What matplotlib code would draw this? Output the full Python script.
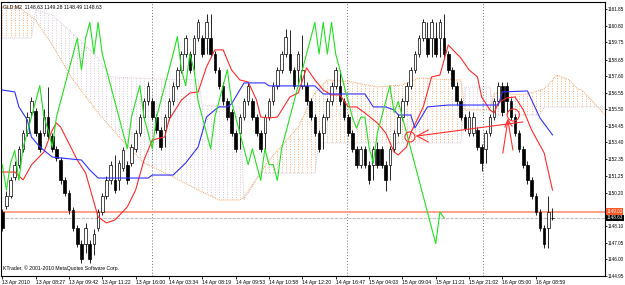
import numpy as np
import matplotlib
matplotlib.use('Agg')
import matplotlib.pyplot as plt
import matplotlib.transforms as mtransforms
from matplotlib.path import Path
from matplotlib.patches import Ellipse

plt.rcParams['font.family'] = ['Liberation Sans', 'DejaVu Sans']

# GLD,M2 candles
opens = [1149.0, 1149.4, 1150.0, 1151.2, 1152.0, 1153.0, 1154.0, 1155.3, 1155.4, 1154.0,
         1154.0, 1155.0, 1153.8, 1153.0, 1152.3, 1151.0, 1150.2, 1149.1, 1148.0, 1147.0,
         1147.0, 1147.0, 1147.0, 1148.0, 1149.0, 1150.0, 1151.0, 1151.0, 1151.0, 1151.8,
         1152.0, 1152.1, 1153.0, 1154.0, 1155.0, 1156.0, 1156.0, 1155.0, 1154.2, 1154.2,
         1155.0, 1156.0, 1157.0, 1158.0, 1159.0, 1159.0, 1159.0, 1160.0, 1160.0, 1160.0,
         1160.0, 1159.0, 1158.0, 1157.0, 1156.0, 1155.3, 1154.0, 1154.0, 1155.0, 1156.0,
         1156.0, 1155.0, 1154.0, 1154.0, 1155.0, 1156.0, 1157.0, 1158.0, 1159.0, 1159.0,
         1158.0, 1158.0, 1157.0, 1157.0, 1156.0, 1155.0, 1154.0, 1154.0, 1155.0, 1156.0,
         1157.0, 1157.0, 1156.0, 1155.0, 1154.0, 1153.0, 1152.0, 1153.0, 1152.0, 1152.0,
         1153.0, 1153.0, 1152.0, 1152.0, 1153.0, 1154.0, 1155.0, 1156.0, 1157.0, 1158.0,
         1159.0, 1160.0, 1160.0, 1160.0, 1160.0, 1160.0, 1160.0, 1159.0, 1158.0, 1157.0,
         1156.0, 1155.0, 1154.0, 1154.0, 1154.2, 1153.1, 1153.0, 1154.0, 1155.0, 1156.0,
         1157.0, 1157.0, 1156.0, 1155.0, 1154.0, 1153.0, 1152.0, 1151.0, 1150.0, 1149.0,
         1148.0, 1148.0, 1148.63]
highs = [1149.2, 1150.3, 1151.2, 1152.2, 1153.2, 1154.2, 1155.3, 1156.3, 1155.6, 1154.2,
         1155.5, 1156.9, 1154.0, 1153.2, 1152.5, 1151.2, 1150.4, 1149.3, 1148.2, 1147.2,
         1148.3, 1147.2, 1147.9, 1149.2, 1150.2, 1151.3, 1152.2, 1152.6, 1152.3, 1153.1,
         1152.2, 1153.3, 1154.2, 1155.2, 1156.2, 1157.2, 1156.2, 1155.2, 1154.4, 1155.2,
         1156.2, 1157.2, 1158.2, 1159.2, 1160.2, 1159.2, 1160.2, 1161.2, 1160.2, 1161.5,
         1161.5, 1159.2, 1158.2, 1157.2, 1156.2, 1155.5, 1154.2, 1155.2, 1156.2, 1157.2,
         1156.2, 1155.2, 1154.2, 1155.2, 1156.2, 1157.2, 1158.2, 1159.2, 1160.6, 1160.5,
         1158.2, 1159.2, 1160.2, 1157.2, 1156.2, 1155.2, 1154.2, 1155.2, 1156.2, 1157.2,
         1158.2, 1158.0, 1156.2, 1155.2, 1154.2, 1153.2, 1153.2, 1153.2, 1152.2, 1153.2,
         1153.4, 1153.2, 1152.2, 1153.2, 1154.2, 1155.2, 1156.2, 1157.2, 1158.2, 1159.2,
         1160.2, 1161.2, 1161.0, 1161.2, 1161.0, 1161.2, 1161.5, 1159.2, 1158.2, 1157.2,
         1156.2, 1155.2, 1155.4, 1155.3, 1154.4, 1153.3, 1154.2, 1155.2, 1156.2, 1157.2,
         1157.2, 1157.2, 1156.2, 1155.2, 1154.2, 1153.2, 1152.2, 1151.2, 1150.2, 1149.2,
         1148.2, 1150.0, 1149.28]
lows = [1147.8, 1149.2, 1149.9, 1151.0, 1151.8, 1152.8, 1153.8, 1155.1, 1153.8, 1152.8,
        1153.8, 1153.6, 1152.8, 1152.2, 1150.8, 1150.0, 1148.9, 1147.8, 1146.8, 1145.8,
        1146.4, 1145.8, 1146.3, 1147.8, 1148.8, 1149.8, 1150.8, 1150.2, 1150.4, 1151.6,
        1150.8, 1151.9, 1152.8, 1153.8, 1154.8, 1155.8, 1154.8, 1154.0, 1152.9, 1153.1,
        1154.8, 1155.8, 1156.8, 1157.8, 1158.8, 1157.8, 1158.0, 1159.8, 1158.8, 1159.0,
        1158.8, 1157.8, 1156.8, 1155.8, 1154.8, 1153.8, 1152.8, 1153.0, 1154.8, 1155.8,
        1154.8, 1153.8, 1152.8, 1153.0, 1154.8, 1155.8, 1156.8, 1157.8, 1158.8, 1157.8,
        1156.8, 1157.0, 1156.8, 1155.8, 1154.8, 1153.8, 1152.8, 1153.0, 1154.8, 1155.8,
        1156.8, 1155.8, 1154.8, 1153.8, 1152.8, 1151.8, 1151.8, 1151.8, 1150.8, 1151.0,
        1151.8, 1151.8, 1150.3, 1151.0, 1152.8, 1153.8, 1154.8, 1155.8, 1156.8, 1157.8,
        1158.8, 1159.8, 1158.8, 1158.8, 1158.8, 1158.8, 1158.8, 1157.8, 1156.8, 1155.8,
        1154.8, 1154.1, 1153.8, 1153.8, 1152.9, 1151.6, 1152.1, 1153.8, 1154.8, 1155.8,
        1155.1, 1155.3, 1154.8, 1153.8, 1152.8, 1151.8, 1150.8, 1149.8, 1148.8, 1147.8,
        1146.7, 1146.7, 1148.49]
closes = [1148.0, 1150.0, 1151.0, 1152.0, 1153.0, 1154.0, 1155.0, 1156.0, 1154.0, 1153.0,
          1155.0, 1153.8, 1153.0, 1152.4, 1151.0, 1150.2, 1149.1, 1148.0, 1147.0, 1146.0,
          1148.0, 1146.0, 1147.6, 1149.0, 1150.0, 1151.0, 1152.0, 1150.4, 1152.1, 1152.9,
          1151.0, 1153.1, 1154.0, 1155.0, 1156.0, 1157.0, 1155.0, 1154.2, 1153.1, 1155.0,
          1156.0, 1157.0, 1158.0, 1159.0, 1160.0, 1158.0, 1160.0, 1161.0, 1159.0, 1161.0,
          1159.0, 1158.0, 1157.0, 1156.0, 1155.0, 1154.0, 1153.0, 1155.0, 1156.0, 1157.0,
          1155.0, 1154.0, 1153.0, 1155.0, 1156.0, 1157.0, 1158.0, 1159.0, 1160.1, 1158.0,
          1157.0, 1159.0, 1158.0, 1156.0, 1155.0, 1154.0, 1153.0, 1155.0, 1156.0, 1157.0,
          1158.0, 1156.0, 1155.0, 1154.0, 1153.0, 1152.0, 1153.0, 1152.0, 1151.0, 1153.0,
          1152.0, 1152.0, 1151.0, 1153.0, 1154.0, 1155.0, 1156.0, 1157.0, 1158.0, 1159.0,
          1160.0, 1161.0, 1159.0, 1161.0, 1159.0, 1161.0, 1159.0, 1158.0, 1157.0, 1156.0,
          1155.0, 1154.3, 1155.0, 1155.0, 1153.1, 1152.1, 1154.0, 1155.0, 1156.0, 1157.0,
          1155.3, 1156.0, 1155.0, 1154.0, 1153.0, 1152.0, 1151.0, 1150.0, 1149.0, 1148.0,
          1147.0, 1149.0, 1148.63]

# Ichimoku lines, vertices as (bar, price)
tenkan_bar = [0, 3, 5, 7, 10, 12, 13, 14, 18, 20, 23, 25, 27, 30, 32, 34, 36, 39, 40, 43,
              45, 47, 49, 51, 53, 55, 57, 59, 61, 62, 64, 66, 69, 71, 73, 75, 77, 79, 81, 83,
              85, 87, 90, 92, 94, 95, 97, 98, 101, 103, 105, 107, 110, 112, 114, 115, 117, 118,
              119, 121, 123, 125, 127, 130, 132]
tenkan_val = [1151.53, 1151.53, 1151.03, 1151.98, 1152.80, 1154.19, 1154.63, 1154.38, 1152.29, 1151.47,
              1148.69, 1148.31, 1148.49, 1149.32, 1150.39, 1152.29, 1153.56, 1153.75, 1154.83, 1156.09,
              1156.53, 1156.60, 1158.18, 1159.26, 1159.26, 1157.99, 1157.36, 1157.23, 1156.09, 1155.01,
              1154.95, 1155.01, 1156.28, 1156.53, 1158.12, 1157.36, 1156.72, 1156.41, 1156.41, 1155.65,
              1155.65, 1155.27, 1154.63, 1154.00, 1152.80, 1152.61, 1153.12, 1154.00, 1155.65, 1157.55,
              1157.67, 1159.57, 1158.75, 1157.99, 1157.55, 1156.28, 1155.46, 1155.27,
              1155.90, 1156.22, 1156.28, 1155.46, 1154.19, 1152.74, 1150.39]
kijun_bar = [0, 3, 4, 6, 7, 9, 12, 14, 19, 21, 23, 35, 36, 41, 44, 47, 49, 51, 52, 54,
             55, 58, 63, 64, 75, 77, 87, 89, 92, 94, 95, 98, 99, 102, 107, 119, 120, 126, 129, 132]
kijun_val = [1156.72, 1156.60, 1155.65, 1154.83, 1153.75, 1153.12, 1152.48, 1152.42, 1152.29, 1151.66,
             1151.15, 1151.15, 1151.34, 1151.34, 1152.10, 1153.12, 1155.01, 1155.46, 1155.65, 1155.65,
             1155.84, 1157.17, 1157.17, 1156.98, 1156.98, 1156.47, 1156.47, 1155.65, 1155.65, 1155.46,
             1155.14, 1155.14, 1154.32, 1155.65, 1155.77, 1155.77, 1156.60, 1156.66, 1154.95, 1153.88]
kumo_bar = [0, 4, 7, 8, 12, 16, 17, 21, 23, 26, 28, 34, 41, 47, 48, 52, 57, 58, 62, 64,
            71, 75, 76, 78, 84, 90, 96, 100, 108, 110, 111, 117, 118, 125, 129, 130, 131, 133,
            136, 138, 139, 142, 145]
span_a = [1161.98, 1161.98, 1161.35, 1161.15, 1159.57, 1157.80, 1157.36, 1155.97, 1155.27, 1154.36,
          1153.75, 1152.10, 1151.22, 1150.39, 1150.27, 1149.76, 1149.76, 1149.95, 1151.50, 1152.29,
          1154.38, 1156.53, 1156.80, 1157.36, 1157.23, 1156.91, 1157.04, 1157.48, 1157.36, 1157.36,
          1155.46, 1155.46, 1156.53, 1156.41, 1156.70, 1156.80, 1157.04, 1157.67,
          1157.36, 1156.79, 1156.72, 1155.90, 1155.01]
span_b = [1160.01, 1160.01, 1160.01, 1161.79, 1161.47, 1160.52, 1160.27, 1159.26, 1158.72, 1157.55,
          1157.52, 1157.45, 1157.40, 1157.36, 1155.77, 1155.70, 1155.65, 1149.76, 1151.47, 1151.47,
          1151.47, 1151.47, 1153.37, 1153.37, 1153.37, 1153.37, 1153.37, 1153.37, 1153.37, 1153.37,
          1156.91, 1156.91, 1155.14, 1155.14, 1155.14, 1155.65, 1155.65, 1155.65,
          1155.65, 1155.65, 1155.65, 1155.65, 1155.65]
chikou_shift = 26

time_bars = [0, 8, 16, 24, 32, 40, 48, 56, 64, 72, 80, 88, 96, 104, 112, 120, 128]
time_labels = ['13 Apr 2010', '13 Apr 08:27', '13 Apr 09:42', '13 Apr 11:22', '13 Apr 16:00',
               '14 Apr 03:34', '14 Apr 08:19', '14 Apr 09:53', '14 Apr 10:58', '14 Apr 12:20',
               '14 Apr 16:47', '15 Apr 04:03', '15 Apr 09:04', '15 Apr 11:21', '15 Apr 21:02',
               '16 Apr 05:00', '16 Apr 08:59']
day_breaks = [36, 82.7, 115.3]
price_ticks = [1161.85, 1160.80, 1159.75, 1158.65, 1157.60, 1156.55, 1155.50, 1154.45, 1153.40,
               1152.35, 1151.25, 1150.20, 1148.10, 1147.05, 1146.00, 1144.95]
hline_level = 1149.03
bid_level = 1148.63

# hand drawn marks on the chart (bar, price)
circles = [(97.8, 1153.75, 2.4, 0.63), (122.6, 1155.14, 2.9, 0.76)]
arrow_shaft = ([124.9, 99.5], [1154.70, 1153.81])
arrow_head = ([102.2, 99.5, 102.2], [1154.19, 1153.81, 1153.43])
up_arrow_1 = ([120.1, 121.3, 122.5], [1152.74, 1154.83, 1152.93])
up_arrow_2 = ([120.6, 121.3, 122.3], [1154.38, 1154.83, 1154.44])

fs = 3.7
fs_y = 3.35

fig = plt.figure(figsize=(6.25, 2.85), dpi=100)
ax = fig.add_axes([1 / 625, 9 / 285, 604 / 625, 274 / 285])

# kumo: dotted vertical hatching clipped to the cloud
xb = np.array(kumo_bar)
a = np.array(span_a)
b = np.array(span_b)
kumo_up = ax.fill_between(xb, a, b, where=a >= b, interpolate=True, facecolor='none', edgecolor='none')
kumo_dn = ax.fill_between(xb, a, b, where=a < b, interpolate=True, facecolor='none', edgecolor='none')
grid = np.arange(-1, 147)
for coll, col in ((kumo_up, '#f6b078'), (kumo_dn, '#d8c8d8')):
    paths = coll.get_paths()
    if len(paths) == 0:
        continue
    clip = Path.make_compound_path(*paths)
    vl = ax.vlines(grid, 1140, 1165, colors=col, linewidth=0.7, linestyles=(0, (1, 1.6)), zorder=1)
    vl.set_clip_path(clip, ax.transData)
ax.plot(xb, a, color='#f4a460', lw=0.7, ls=(0, (1, 1)), zorder=1)
ax.plot(xb, b, color='#d8c8d8', lw=0.7, ls=(0, (1, 1)), zorder=1)

for d in day_breaks:
    ax.axvline(d, color='#707070', lw=0.7, ls=(0, (1, 2)), zorder=2)

ax.axhline(hline_level, color='#ff9a80', lw=1.3, zorder=2)
ax.axhline(bid_level, color='#c0c0c0', lw=0.8, ls=(0, (3, 1)), zorder=2)

# candles
o = np.array(opens)
c = np.array(closes)
idx = np.arange(len(o))
ax.vlines(idx, lows, highs, color='black', lw=0.6, zorder=3)
bull = c >= o
ax.bar(idx[bull], c[bull] - o[bull], bottom=o[bull], width=0.62, color='white',
       edgecolor='black', linewidth=0.5, zorder=4)
ax.bar(idx[~bull], o[~bull] - c[~bull], bottom=c[~bull], width=0.62, color='black',
       edgecolor='black', linewidth=0.5, zorder=4)

# ichimoku lines
ax.plot(tenkan_bar, tenkan_val, color='#ff2a2a', lw=0.8, zorder=5)
ax.plot(kijun_bar, kijun_val, color='#3030ff', lw=0.8, zorder=5)
ax.plot(idx[chikou_shift:] - chikou_shift, c[chikou_shift:], color='#22e022', lw=0.8, zorder=5)

# user objects
red = '#ff3030'
for cx, cy, w, h in circles:
    ax.add_patch(Ellipse((cx, cy), w, h, fill=False, ec=red, lw=0.8, zorder=6))
ax.plot(*arrow_shaft, color=red, lw=0.8, zorder=6)
ax.plot(*arrow_head, color=red, lw=0.8, zorder=6)
ax.plot(*up_arrow_1, color=red, lw=0.8, zorder=6)
ax.plot(*up_arrow_2, color=red, lw=0.8, zorder=6)

ax.set_xlim(-0.3, 144.6)
ax.set_ylim(1144.95, 1162.29)

ax.yaxis.tick_right()
ax.set_yticks(price_ticks, ['%.2f' % v for v in price_ticks])
ax.tick_params(axis='y', length=1.5, width=0.6, pad=0.5, labelsize=fs_y)
ax.set_xticks(time_bars, time_labels)
for lab in ax.get_xticklabels():
    lab.set_horizontalalignment('left')
ax.tick_params(axis='x', length=2, width=0.6, pad=1, labelsize=fs)
for s in ax.spines.values():
    s.set_linewidth(0.8)

trans = mtransforms.blended_transform_factory(ax.transAxes, ax.transData)
ax.text(1.0025, hline_level, '%.2f' % hline_level, transform=trans, ha='left', va='center',
        fontsize=fs_y, color='white', clip_on=False,
        bbox=dict(boxstyle='square,pad=0.15', fc='#ff5522', ec='none'))
ax.text(1.0025, bid_level, '%.2f' % bid_level, transform=trans, ha='left', va='center',
        fontsize=fs_y, color='white', clip_on=False,
        bbox=dict(boxstyle='square,pad=0.15', fc='black', ec='none'))

ax.text(0.004, 0.993, 'GLD,M2  1148.63 1149.28 1148.49 1148.63', transform=ax.transAxes,
        ha='left', va='top', fontsize=fs)
ax.text(0.004, 0.027, 'KTrader, \u00a9 2001-2010 MetaQuotes Software Corp.', transform=ax.transAxes,
        ha='left', va='center', fontsize=fs)

fig.savefig('out.png', dpi=100)
